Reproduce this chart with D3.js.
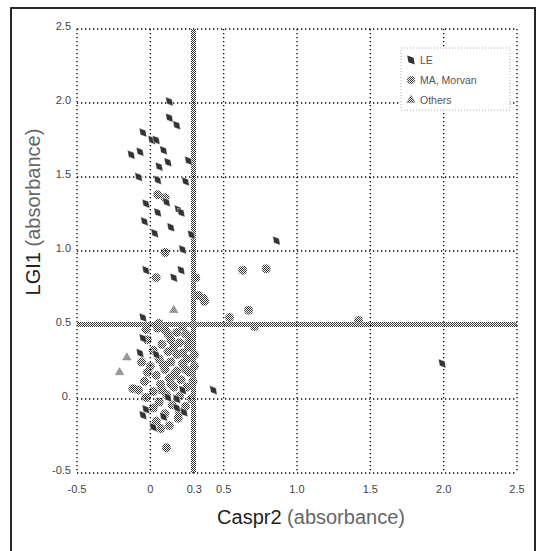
<!DOCTYPE html>
<html>
<head>
<meta charset="utf-8">
<script src="https://cdn.jsdelivr.net/npm/d3@7"></script>
<style>
  body { margin: 0; background: #fff; }
  text { font-family: "Liberation Sans", Arial, sans-serif; }
</style>
</head>
<body>
<svg width="538" height="551"></svg>
<script>
// values: [Caspr2, LGI1]
var leData = [
  [0.13, 2.01], [0.13, 1.90], [0.18, 1.85], [-0.05, 1.80], [0.01, 1.75], [0.04, 1.75],
  [0.09, 1.68], [-0.13, 1.65], [-0.07, 1.67], [0.26, 1.61], [0.06, 1.57], [0.12, 1.60],
  [-0.08, 1.50], [0.05, 1.48], [0.24, 1.47], [-0.03, 1.32], [0.11, 1.33], [0.19, 1.28],
  [0.21, 1.26], [-0.04, 1.20], [0.05, 1.26], [0.03, 1.12], [0.14, 1.16], [0.28, 1.11],
  [0.22, 1.01], [-0.03, 0.87], [0.16, 0.82], [0.21, 0.87], [-0.05, 0.55], [-0.05, 0.41],
  [-0.07, 0.31], [0.04, 0.30], [0.12, 0.01], [0.18, 0.00], [0.22, 0.06],
  [-0.05, -0.11], [-0.03, -0.07], [0.02, -0.19], [0.09, -0.12], [0.18, -0.06], [0.23, -0.09],
  [0.43, 0.06], [0.86, 1.07], [1.99, 0.24]
];
var maData = [
  [0.05, 1.38], [0.10, 1.36], [0.10, 0.99], [0.04, 0.82], [0.31, 0.82], [0.33, 0.70],
  [0.36, 0.68], [0.37, 0.66], [0.63, 0.87], [0.79, 0.88], [0.67, 0.60], [0.54, 0.55],
  [0.71, 0.49], [1.42, 0.53], [0.11, -0.33], [-0.03, 0.47], [0.06, 0.51],
  [0.10, 0.47], [0.18, 0.45], [0.24, 0.44], [0.05, 0.48], [0.28, 0.42],
  [0.14, 0.40], [0.20, 0.38], [0.08, 0.37], [0.26, 0.35],
  [0.02, 0.33], [0.12, 0.32], [0.18, 0.30], [0.30, 0.30],
  [0.06, 0.27], [0.14, 0.25], [0.22, 0.24], [0.00, 0.22],
  [0.10, 0.20], [0.18, 0.19], [0.27, 0.18], [0.04, 0.16],
  [0.13, 0.14], [0.21, 0.13], [-0.04, 0.12], [0.07, 0.10],
  [0.16, 0.08], [0.25, 0.08], [-0.08, 0.06], [-0.12, 0.07], [0.02, 0.05],
  [0.11, 0.03], [0.20, 0.02], [0.28, 0.00], [0.06, -0.02],
  [0.15, -0.04], [0.24, -0.05], [0.10, -0.10], [0.19, -0.13],
  [0.13, -0.18], [0.04, -0.15], [0.29, 0.12], [0.30, 0.22],
  [-0.02, 0.40], [0.16, 0.35], [0.22, 0.31], [-0.06, 0.25], [0.09, 0.23], [0.25, 0.27],
  [-0.02, 0.18], [0.16, 0.16], [0.24, 0.20], [0.08, 0.06], [-0.03, 0.01], [0.14, 0.10],
  [0.02, -0.06], [0.20, -0.09], [0.07, -0.20], [0.26, 0.38], [0.12, 0.44], [0.22, 0.49]
];
var othersData = [[0.16, 0.60], [-0.16, 0.28], [-0.21, 0.18]];

var xTicks = [-0.5, 0, 0.3, 0.5, 1.0, 1.5, 2.0, 2.5];
var xTickLabels = ["-0.5", "0", "0.3", "0.5", "1.0", "1.5", "2.0", "2.5"];
var xGrid = [0, 0.5, 1.0, 1.5, 2.0];
var yTicks = [2.5, 2.0, 1.5, 1.0, 0.5, 0, -0.5];
var yTickLabels = ["2.5", "2.0", "1.5", "1.0", "0.5", "0.", "-0.5"];
var yGrid = [2.0, 1.5, 1.0, 0];
var xCut = 0.3, yCut = 0.5;
var legendNames = ["LE", "MA, Morvan", "Others"];

var svg = d3.select("svg");
var x = d3.scaleLinear().domain([-0.5, 2.5]).range([77, 517]),
    y = d3.scaleLinear().domain([-0.5, 2.5]).range([473, 29]);

// checker pattern used for the cut-off bands and the MA / others markers
var defs = svg.append("defs");
var chk = defs.append("pattern").attr("id", "chk").attr("patternUnits", "userSpaceOnUse")
    .attr("width", 2).attr("height", 2);
chk.append("rect").attr("width", 1).attr("height", 1).attr("fill", "#333");
chk.append("rect").attr("x", 1).attr("y", 1).attr("width", 1).attr("height", 1).attr("fill", "#333");

// outer frame
svg.append("rect").attr("x", 11).attr("y", 8).attr("width", 524).attr("height", 545)
    .attr("fill", "none").attr("stroke", "#111").attr("stroke-width", 1.8);

var g = svg.append("g");

// dotted grid + plot frame
g.selectAll(".vgrid").data(xGrid.concat([-0.5, 2.5])).enter().append("line")
    .attr("x1", d => x(d)).attr("x2", d => x(d)).attr("y1", y(2.5)).attr("y2", y(-0.5))
    .attr("stroke", "#000").attr("stroke-width", 1.3).attr("stroke-dasharray", "1.3,2.7");
g.selectAll(".hgrid").data(yGrid.concat([2.5, -0.5])).enter().append("line")
    .attr("y1", d => y(d)).attr("y2", d => y(d)).attr("x1", x(-0.5)).attr("x2", x(2.5))
    .attr("stroke", "#000").attr("stroke-width", 1.3).attr("stroke-dasharray", "1.3,2.7");

// cut-off bands
g.append("rect").attr("x", Math.round(x(xCut)) - 3).attr("width", 5)
    .attr("y", Math.round(y(2.5))).attr("height", Math.round(y(-0.5) - y(2.5))).attr("fill", "url(#chk)");
g.append("rect").attr("y", Math.round(y(yCut)) - 3).attr("height", 5)
    .attr("x", Math.round(x(-0.5))).attr("width", Math.round(x(2.5) - x(-0.5))).attr("fill", "url(#chk)");

// tick labels
g.selectAll(".xt").data(xTicks).enter().append("text")
    .attr("x", d => x(d)).attr("y", 493).attr("text-anchor", "middle")
    .attr("font-size", 11).attr("fill", "#444")
    .text((d, i) => xTickLabels[i]);
g.selectAll(".yt").data(yTicks).enter().append("text")
    .attr("x", 71).attr("y", d => y(d)).attr("dy", "0.1em").attr("text-anchor", "end")
    .attr("font-size", 11).attr("fill", "#444")
    .text((d, i) => yTickLabels[i]);

// axis titles
var xt = svg.append("text").attr("x", 311).attr("y", 524).attr("text-anchor", "middle")
    .attr("font-size", 20).attr("fill", "#222");
xt.append("tspan").text("Caspr2 ");
xt.append("tspan").attr("fill", "#666").text("(absorbance)");
var yt = svg.append("text").attr("transform", "translate(40,212) rotate(-90)")
    .attr("text-anchor", "middle").attr("font-size", 20).attr("fill", "#222");
yt.append("tspan").text("LGI1 ");
yt.append("tspan").attr("fill", "#666").text("(absorbance)");

// points
var diamond = d3.symbol().type(d3.symbolDiamond).size(40),
    tri = d3.symbol().type(d3.symbolTriangle).size(30);
g.selectAll(".ma").data(maData).enter().append("circle")
    .attr("cx", d => x(d[0])).attr("cy", d => y(d[1])).attr("r", 4.5)
    .attr("fill", "url(#chk)");
g.selectAll(".oth").data(othersData).enter().append("path")
    .attr("d", tri).attr("transform", d => "translate(" + x(d[0]) + "," + y(d[1]) + ")")
    .attr("fill", "url(#chk)").attr("stroke", "#777").attr("stroke-width", 0.5);
g.selectAll(".le").data(leData).enter().append("path")
    .attr("d", diamond).attr("transform", d => "translate(" + x(d[0]) + "," + y(d[1]) + ") rotate(-40)")
    .attr("fill", "#333").attr("stroke", "#fff").attr("stroke-width", 0.4);

// legend
var lg = svg.append("g");
lg.append("rect").attr("x", 401).attr("y", 48).attr("width", 109).attr("height", 62)
    .attr("fill", "#fff").attr("stroke", "#999").attr("stroke-width", 0.8).attr("stroke-dasharray", "1,2");
var ly = d3.scaleBand().domain(legendNames).range([50, 110]);
lg.append("path").attr("d", diamond).attr("transform", "translate(411," + (ly("LE") + 10) + ") rotate(-40)")
    .attr("fill", "#333");
lg.append("circle").attr("cx", 411).attr("cy", ly("MA, Morvan") + 10).attr("r", 4)
    .attr("fill", "url(#chk)");
lg.append("path").attr("d", tri).attr("transform", "translate(411," + (ly("Others") + 10) + ")")
    .attr("fill", "url(#chk)").attr("stroke", "#777").attr("stroke-width", 0.5);
lg.selectAll(".lt").data(legendNames).enter().append("text")
    .attr("x", 420).attr("y", d => ly(d) + 10).attr("dy", "0.35em")
    .attr("font-size", 10.5).attr("fill", "#555").text(d => d);
</script>
</body>
</html>
